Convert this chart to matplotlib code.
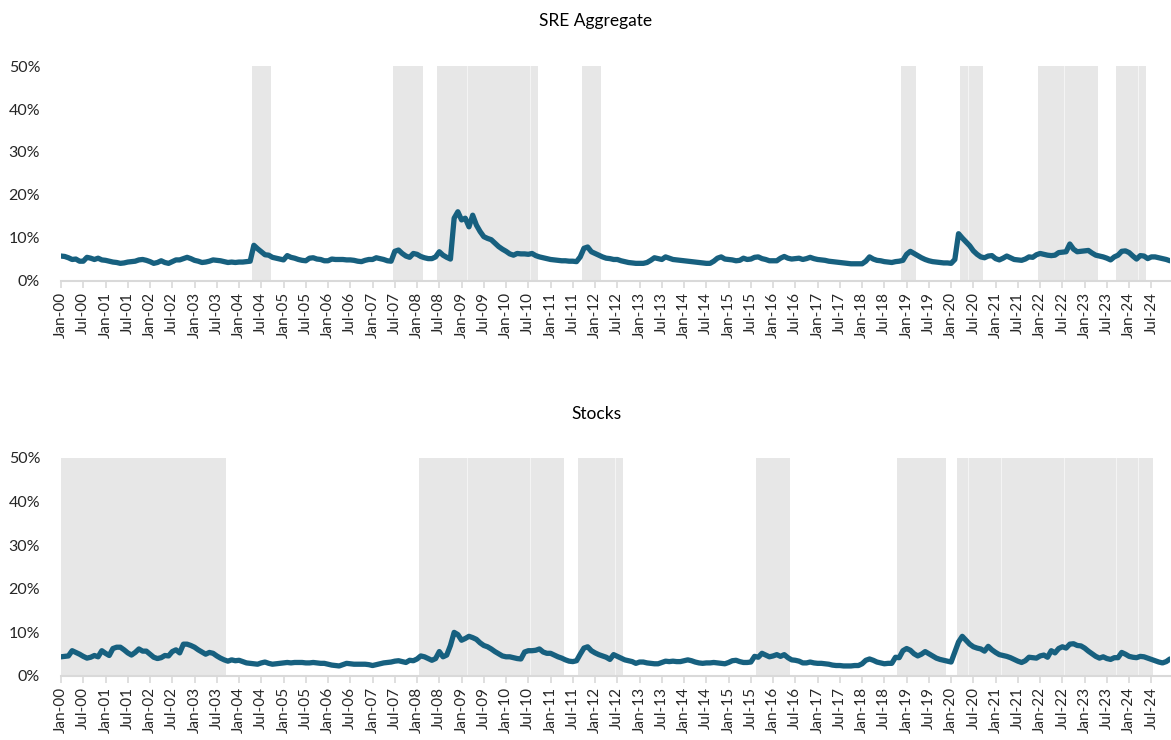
import numpy as np
import pandas as pd
import matplotlib
matplotlib.use("Agg")
import matplotlib.pyplot as plt
from matplotlib.ticker import PercentFormatter

plt.rcParams["font.family"] = ["Lato", "DejaVu Sans"]

# Monthly series, Jan-2000 .. Dec-2024, in percent (one row per year)
sre_aggregate = [
    5.8, 5.7, 5.4, 5.0, 5.1, 4.6, 4.6, 5.5, 5.3, 5.0, 5.3, 4.9,
    4.8, 4.6, 4.4, 4.3, 4.1, 4.2, 4.4, 4.5, 4.6, 4.9, 5.0, 4.8,
    4.5, 4.1, 4.3, 4.7, 4.3, 4.1, 4.5, 4.9, 4.9, 5.2, 5.5, 5.2,
    4.8, 4.6, 4.3, 4.4, 4.6, 4.9, 4.8, 4.7, 4.5, 4.3, 4.4, 4.3,
    4.4, 4.4, 4.5, 4.6, 8.3, 7.5, 6.8, 6.1, 6.0, 5.5, 5.3, 5.1,
    4.9, 5.9, 5.5, 5.3, 5.0, 4.8, 4.7, 5.3, 5.4, 5.1, 5.0, 4.7,
    4.7, 5.1, 5.0, 5.0, 5.0, 4.9, 4.9, 4.8, 4.6, 4.5, 4.8, 5.0,
    5.0, 5.4, 5.2, 5.0, 4.7, 4.6, 6.9, 7.2, 6.4, 5.8, 5.5, 6.4,
    6.2, 5.7, 5.4, 5.2, 5.2, 5.6, 6.8, 6.0, 5.5, 5.1, 14.6, 16.1,
    14.2, 14.6, 12.6, 15.3, 13.0, 11.5, 10.3, 9.9, 9.6, 8.8, 8.0, 7.4,
    6.9, 6.3, 6.0, 6.4, 6.3, 6.3, 6.2, 6.4, 5.9, 5.6, 5.4, 5.2,
    5.0, 4.9, 4.8, 4.7, 4.7, 4.6, 4.6, 4.5, 5.6, 7.6, 7.9, 6.8,
    6.4, 6.0, 5.6, 5.3, 5.2, 5.0, 5.0, 4.7, 4.5, 4.3, 4.2, 4.1,
    4.1, 4.1, 4.3, 4.8, 5.4, 5.2, 5.0, 5.6, 5.3, 5.0, 4.9, 4.8,
    4.7, 4.6, 4.5, 4.4, 4.3, 4.2, 4.1, 4.1, 4.6, 5.3, 5.6, 5.1,
    5.0, 4.9, 4.7, 4.8, 5.3, 5.0, 5.1, 5.5, 5.6, 5.2, 5.0, 4.7,
    4.7, 4.7, 5.3, 5.7, 5.3, 5.1, 5.2, 5.3, 5.0, 5.2, 5.5, 5.2,
    5.0, 4.9, 4.8, 4.6, 4.5, 4.4, 4.3, 4.2, 4.1, 4.0, 4.0, 4.0,
    4.0, 4.6, 5.6, 5.1, 4.8, 4.7, 4.5, 4.4, 4.3, 4.5, 4.6, 4.8,
    6.2, 6.9, 6.4, 5.9, 5.4, 5.0, 4.7, 4.5, 4.4, 4.3, 4.2, 4.2,
    4.1, 5.0, 11.0, 10.0, 9.1, 8.2, 7.0, 6.2, 5.6, 5.4, 5.8, 5.9,
    5.2, 4.9, 5.3, 5.8, 5.4, 5.0, 4.9, 4.8, 5.1, 5.6, 5.5, 6.1,
    6.4, 6.2, 6.0, 5.9, 6.0, 6.6, 6.7, 6.8, 8.6, 7.4, 6.8, 6.9,
    7.0, 7.1, 6.5, 6.0, 5.8, 5.6, 5.3, 4.9, 5.6, 6.0, 6.9, 7.0,
    6.6, 5.8, 5.1, 5.9, 5.8, 5.2, 5.6, 5.6, 5.4, 5.2, 5.0, 4.7,
]

stocks = [
    4.4, 4.5, 4.6, 5.8, 5.4, 5.0, 4.5, 4.1, 4.3, 4.7, 4.4, 5.8,
    5.2, 4.7, 6.3, 6.6, 6.6, 6.0, 5.3, 4.8, 5.4, 6.2, 5.7, 5.7,
    5.0, 4.3, 4.0, 4.2, 4.7, 4.6, 5.6, 6.0, 5.3, 7.3, 7.3, 7.0,
    6.6, 6.0, 5.5, 5.0, 5.4, 5.2, 4.6, 4.1, 3.7, 3.4, 3.7, 3.5,
    3.6, 3.3, 3.0, 2.9, 2.8, 2.7, 3.0, 3.2, 2.9, 2.7, 2.8, 2.9,
    3.0, 3.1, 3.0, 3.1, 3.1, 3.1, 3.0, 3.0, 3.1, 3.0, 2.9, 2.9,
    2.7, 2.5, 2.4, 2.3, 2.6, 2.9, 2.8, 2.7, 2.7, 2.7, 2.7, 2.6,
    2.4, 2.6, 2.8, 3.0, 3.1, 3.2, 3.4, 3.5, 3.3, 3.1, 3.6, 3.5,
    3.9, 4.6, 4.4, 4.0, 3.6, 4.0, 5.6, 4.4, 4.8, 7.0, 10.0, 9.5,
    8.2, 8.6, 9.1, 8.8, 8.4, 7.6, 7.0, 6.7, 6.2, 5.6, 5.1, 4.6,
    4.4, 4.4, 4.2, 4.0, 3.9, 5.5, 5.8, 5.8, 5.9, 6.2, 5.5, 5.2,
    5.2, 4.8, 4.4, 4.1, 3.7, 3.4, 3.3, 3.5, 5.0, 6.4, 6.7, 5.8,
    5.3, 4.9, 4.6, 4.3, 3.8, 4.9, 4.5, 4.1, 3.7, 3.5, 3.3, 2.9,
    3.2, 3.2, 3.0, 2.9, 2.8, 2.8, 3.1, 3.4, 3.3, 3.4, 3.3, 3.3,
    3.5, 3.7, 3.5, 3.2, 3.0, 2.9, 3.0, 3.0, 3.1, 3.0, 2.9, 2.8,
    3.1, 3.5, 3.6, 3.3, 3.1, 3.1, 3.2, 4.5, 4.3, 5.2, 4.8, 4.4,
    4.6, 4.9, 4.5, 4.9, 4.2, 3.7, 3.6, 3.4, 3.0, 3.0, 3.2, 3.0,
    2.9, 2.9, 2.8, 2.7, 2.5, 2.4, 2.4, 2.3, 2.3, 2.3, 2.4, 2.4,
    2.8, 3.6, 3.9, 3.6, 3.2, 3.0, 2.8, 2.9, 2.9, 4.3, 4.2, 5.8,
    6.3, 5.9, 5.1, 4.6, 5.0, 5.6, 5.1, 4.6, 4.1, 3.8, 3.6, 3.4,
    3.2, 5.5, 7.8, 9.1, 8.2, 7.3, 6.7, 6.4, 6.2, 5.7, 6.8, 6.0,
    5.4, 4.9, 4.7, 4.5, 4.2, 3.8, 3.4, 3.1, 3.5, 4.3, 4.2, 4.1,
    4.6, 4.8, 4.3, 5.8, 5.3, 6.3, 6.7, 6.4, 7.3, 7.4, 7.0, 6.9,
    6.4, 5.7, 5.1, 4.5, 4.1, 4.4, 4.0, 3.8, 4.2, 4.2, 5.4, 5.0,
    4.5, 4.3, 4.2, 4.5, 4.4, 4.1, 3.8, 3.5, 3.2, 3.0, 3.3, 3.9,
]

# Regime periods (first month, last month); adjacent periods touch
sre_regimes = [
    ("2004-05", "2004-09"),
    ("2007-07", "2008-02"),
    ("2008-07", "2009-02"), ("2009-03", "2010-07"), ("2010-08", "2010-09"),
    ("2011-10", "2012-02"),
    ("2018-12", "2019-03"),
    ("2020-04", "2020-05"), ("2020-06", "2020-09"),
    ("2022-01", "2022-07"), ("2022-08", "2023-04"),
    ("2023-10", "2024-03"), ("2024-04", "2024-05"),
]
stocks_regimes = [
    ("2000-01", "2003-09"),
    ("2008-02", "2009-02"), ("2009-03", "2010-07"), ("2010-08", "2011-04"),
    ("2011-09", "2012-06"), ("2012-07", "2012-08"),
    ("2015-09", "2016-05"),
    ("2018-11", "2019-11"),
    ("2020-03", "2020-05"), ("2020-06", "2021-02"), ("2021-03", "2022-07"),
    ("2022-08", "2023-09"), ("2023-10", "2024-03"), ("2024-04", "2024-07"),
]

panel_titles = ["SRE Aggregate", "Stocks"]

months = pd.date_range("2000-01-01", periods=len(sre_aggregate), freq="MS")
month_pos = {d.strftime("%Y-%m"): i for i, d in enumerate(months)}
x = np.arange(len(months))
tick_pos = x[::6]
tick_labels = [d.strftime("%b-%y") for d in months[::6]]

LINE = "#17607F"
SHADE = "#E7E7E7"
AXIS = "#D9D9D9"
TEXT = "#262626"

fig = plt.figure(figsize=(11.71, 7.40), dpi=100)
axes_boxes = [
    [0.0521, 0.6203, 0.9470, 0.2905],
    [0.0521, 0.0865, 0.9470, 0.2946],
]
title_y = [0.972, 0.441]
series_list = [sre_aggregate, stocks]
regime_list = [sre_regimes, stocks_regimes]

for box, ty, title, series, regimes in zip(axes_boxes, title_y, panel_titles,
                                            series_list, regime_list):
    ax = fig.add_axes(box)
    values = np.array(series) / 100.0
    ymax = 0.5

    # shaded regimes, one block per period
    for start, end in regimes:
        s, e = month_pos[start] - 0.5, month_pos[end] + 0.5
        ax.axvspan(s, e, color=SHADE, lw=0, zorder=0)
    # faint seams where adjacent periods meet
    for (s1, e1), (s2, e2) in zip(regimes[:-1], regimes[1:]):
        if month_pos[s2] == month_pos[e1] + 1:
            ax.axvline(month_pos[e1] + 0.5, color="white", lw=0.7,
                       alpha=0.6, zorder=0.5)

    ax.plot(x, values, color=LINE, lw=3.8, solid_capstyle="round",
            solid_joinstyle="round", zorder=3)

    ax.set_xlim(0, len(x) - 1)
    ax.set_ylim(0, ymax)
    ax.yaxis.set_major_formatter(PercentFormatter(1.0, decimals=0))
    ax.set_yticks(np.arange(0, 0.51, 0.1))

    ax.set_xticks(tick_pos)
    ax.set_xticklabels(tick_labels, rotation=90, fontsize=11, color=TEXT)

    for side in ("top", "right", "left"):
        ax.spines[side].set_visible(False)
    ax.spines["bottom"].set_color(AXIS)
    ax.spines["bottom"].set_linewidth(1.5)
    ax.spines["bottom"].set_zorder(1)

    ax.tick_params(axis="x", direction="out", length=5, width=1.2,
                   color=AXIS, pad=3)
    ax.tick_params(axis="y", length=0, pad=15, labelsize=11.5,
                   labelcolor=TEXT)
    ax.set_facecolor("white")

    fig.text(0.509, ty, title, ha="center", va="center", fontsize=12.5,
             color="black")

fig.savefig("out.png", dpi=100, facecolor="white")
